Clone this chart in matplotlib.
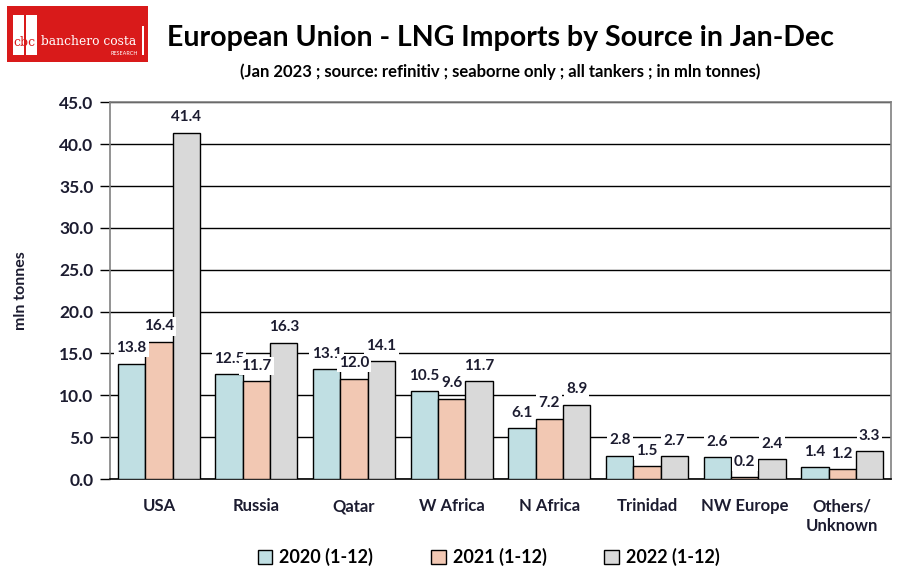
import matplotlib
matplotlib.use('Agg')
import numpy as np
import matplotlib.pyplot as plt
from matplotlib.patches import Rectangle

# data
sources = ['USA', 'Russia', 'Qatar', 'W Africa', 'N Africa', 'Trinidad', 'NW Europe', 'Others/\nUnknown']
y2020 = [13.8, 12.5, 13.1, 10.5, 6.1, 2.8, 2.6, 1.4]
y2021 = [16.4, 11.7, 12.0, 9.6, 7.2, 1.5, 0.2, 1.2]
y2022 = [41.4, 16.3, 14.1, 11.7, 8.9, 2.7, 2.4, 3.3]
series_labels = ['2020 (1-12)', '2021 (1-12)', '2022 (1-12)']
colors = ['#C0DFE3', '#F2C8B3', '#D9D9D9']

plt.rcParams['font.family'] = ['Lato', 'DejaVu Sans']
txt = '#1c1c30'

fig = plt.figure(figsize=(9.13, 5.74), dpi=100)
ax = fig.add_axes([0.1205, 0.1655, 0.8555, 0.656])

x = np.arange(len(sources))
w = 0.28
for i, (vals, c, lab) in enumerate(zip([y2020, y2021, y2022], colors, series_labels)):
    pos = x + (i - 1) * w
    ax.bar(pos, vals, w, color=c, edgecolor='black', linewidth=1.0, label=lab, zorder=3)
    for px, v in zip(pos, vals):
        ax.annotate(f'{v:.1f}', (px, v), xytext=(0, 6), textcoords='offset points',
                    ha='center', va='bottom', fontsize=11, fontweight='bold', color=txt,
                    bbox=dict(facecolor='white', edgecolor='none', pad=1.5), zorder=4)

ax.set_xlim(-0.5, len(sources) - 0.5)
ax.set_ylim(0, 45)
ax.set_yticks(np.arange(0, 45.1, 5))
ax.set_yticklabels([f'{t:.1f}' for t in np.arange(0, 45.1, 5)])
ax.yaxis.grid(True, color='black', linewidth=1.0, zorder=0)
ax.set_axisbelow(True)
ax.set_xticks(x)
ax.set_xticklabels(sources, fontsize=12, fontweight='bold', color=txt, linespacing=1.25)
ax.tick_params(axis='x', length=0, pad=14)
ax.tick_params(axis='y', length=7, width=1, color='black', labelsize=12.5, labelcolor=txt, pad=5)
for lbl in ax.get_yticklabels():
    lbl.set_fontweight('bold')
for s in ax.spines.values():
    s.set_color('#808080')
    s.set_linewidth(1.2)
ax.spines['bottom'].set_color('black')

ax.set_ylabel('mln tonnes', fontsize=11.5, fontweight='bold', color=txt, labelpad=22)

ax.legend(loc='upper center', bbox_to_anchor=(0.485, -0.14), ncol=3, frameon=False,
          prop={'weight': 'bold', 'size': 13}, handlelength=0.8, handleheight=0.8,
          columnspacing=3.2, handletextpad=0.4)

fig.text(0.548, 0.933, 'European Union - LNG Imports by Source in Jan-Dec', ha='center', va='center',
         fontsize=20.5, fontweight='bold', color='black')
fig.text(0.548, 0.875, '(Jan 2023 ; source: refinitiv ; seaborne only ; all tankers ; in mln tonnes)',
         ha='center', va='center', fontsize=12, fontweight='bold', color='black')

# logo
fig.patches.append(Rectangle((0.008, 0.892), 0.154, 0.097, transform=fig.transFigure,
                             facecolor='#D91A1A', edgecolor='none'))
fig.patches.append(Rectangle((0.014, 0.905), 0.012, 0.068, transform=fig.transFigure,
                             facecolor='white', edgecolor='none'))
fig.patches.append(Rectangle((0.028, 0.905), 0.012, 0.068, transform=fig.transFigure,
                             facecolor='white', edgecolor='none'))
fig.text(0.027, 0.915, 'cbc', ha='center', va='bottom', fontsize=9, color='#D91A1A',
         family='DejaVu Serif')
fig.text(0.045, 0.927, 'banchero costa', ha='left', va='center', fontsize=8.8, color='white',
         family='DejaVu Serif')
fig.text(0.151, 0.902, 'RESEARCH', ha='right', va='bottom', fontsize=4, color='white')
fig.patches.append(Rectangle((0.156, 0.905), 0.0012, 0.05, transform=fig.transFigure,
                             facecolor='white', edgecolor='none'))

fig.savefig('out.png', dpi=100)
